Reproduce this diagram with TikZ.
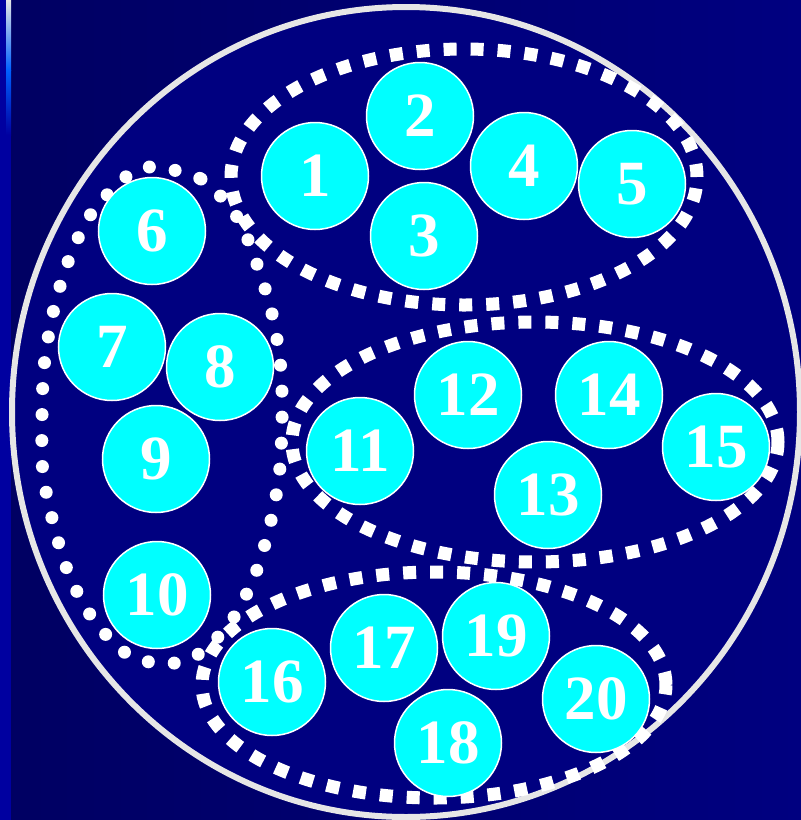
\documentclass[tikz,border=0pt]{standalone}
\usepackage{fontspec}
\setmainfont{Liberation Serif}
\definecolor{navy}{RGB}{0,0,128}
\definecolor{darknavy}{RGB}{0,0,98}
\definecolor{stripblue}{RGB}{0,0,160}
\definecolor{brightblue}{RGB}{0,96,255}
\definecolor{rimgray}{RGB}{230,230,230}
\definecolor{aqua}{RGB}{0,255,255}
\tikzset{
  ball/.style={circle, fill=aqua, draw=white, line width=1.5pt, minimum size=107pt,
    inner sep=0pt, text=white, font=\bfseries\fontsize{63}{63}\selectfont},
  squaredots/.style={draw=white, line width=13pt, dash pattern=on 13pt off 14pt},
  rounddots/.style={draw=white, line width=13pt, line cap=round, dash pattern=on 0pt off 26pt},
}
\begin{document}
\begin{tikzpicture}[x=1pt, y=-1pt]
    \useasboundingbox (0, 0) rectangle (801, 820);
    % background and the left strip
    \shade[left color=darknavy, right color=navy] (0, 0) rectangle (801, 820);
    \fill[stripblue] (0, 0) rectangle (11, 820);
    \shade[top color=rimgray, bottom color=brightblue] (6, 0) rectangle (11, 70);
    \shade[top color=brightblue, bottom color=stripblue] (6, 70) rectangle (11, 135);
    % the big ring
    \filldraw[fill=navy, draw=rimgray, line width=6pt] (406, 412) ellipse [x radius=394pt, y radius=405pt];
    % groups
    \draw[squaredots] (464, 177) ellipse [x radius=233pt, y radius=128pt];
    \draw[squaredots] (535, 442) ellipse [x radius=243pt, y radius=120pt];
    \draw[squaredots] (434, 685) ellipse [x radius=232pt, y radius=113pt];
    \draw[rounddots] plot[smooth cycle] coordinates {(152, 167) (201, 179) (237, 217) (258, 267)
      (273, 318) (281, 370) (282, 423) (279, 477) (269, 529) (253, 580) (227, 627) (186, 661)
      (134, 658) (96, 623) (70, 577) (54, 526) (43, 473) (42, 420) (44, 367) (53, 313)
      (68, 262) (91, 214) (127, 176)};
    % the twenty balls
    \foreach \x/\y/\n in {315/176/1, 420/116/2, 424/236/3, 524/166/4, 632/184/5,
                          152/231/6, 112/347/7, 220/367/8, 156/459/9, 157/595/10,
                          360/451/11, 468/395/12, 548/495/13, 609/395/14, 716/447/15,
                          272/682/16, 384/648/17, 448/743/18, 496/636/19, 596/699/20}
      \node[ball] (b\n) at (\x, \y) {\n};
  \end{tikzpicture}
\end{document}
